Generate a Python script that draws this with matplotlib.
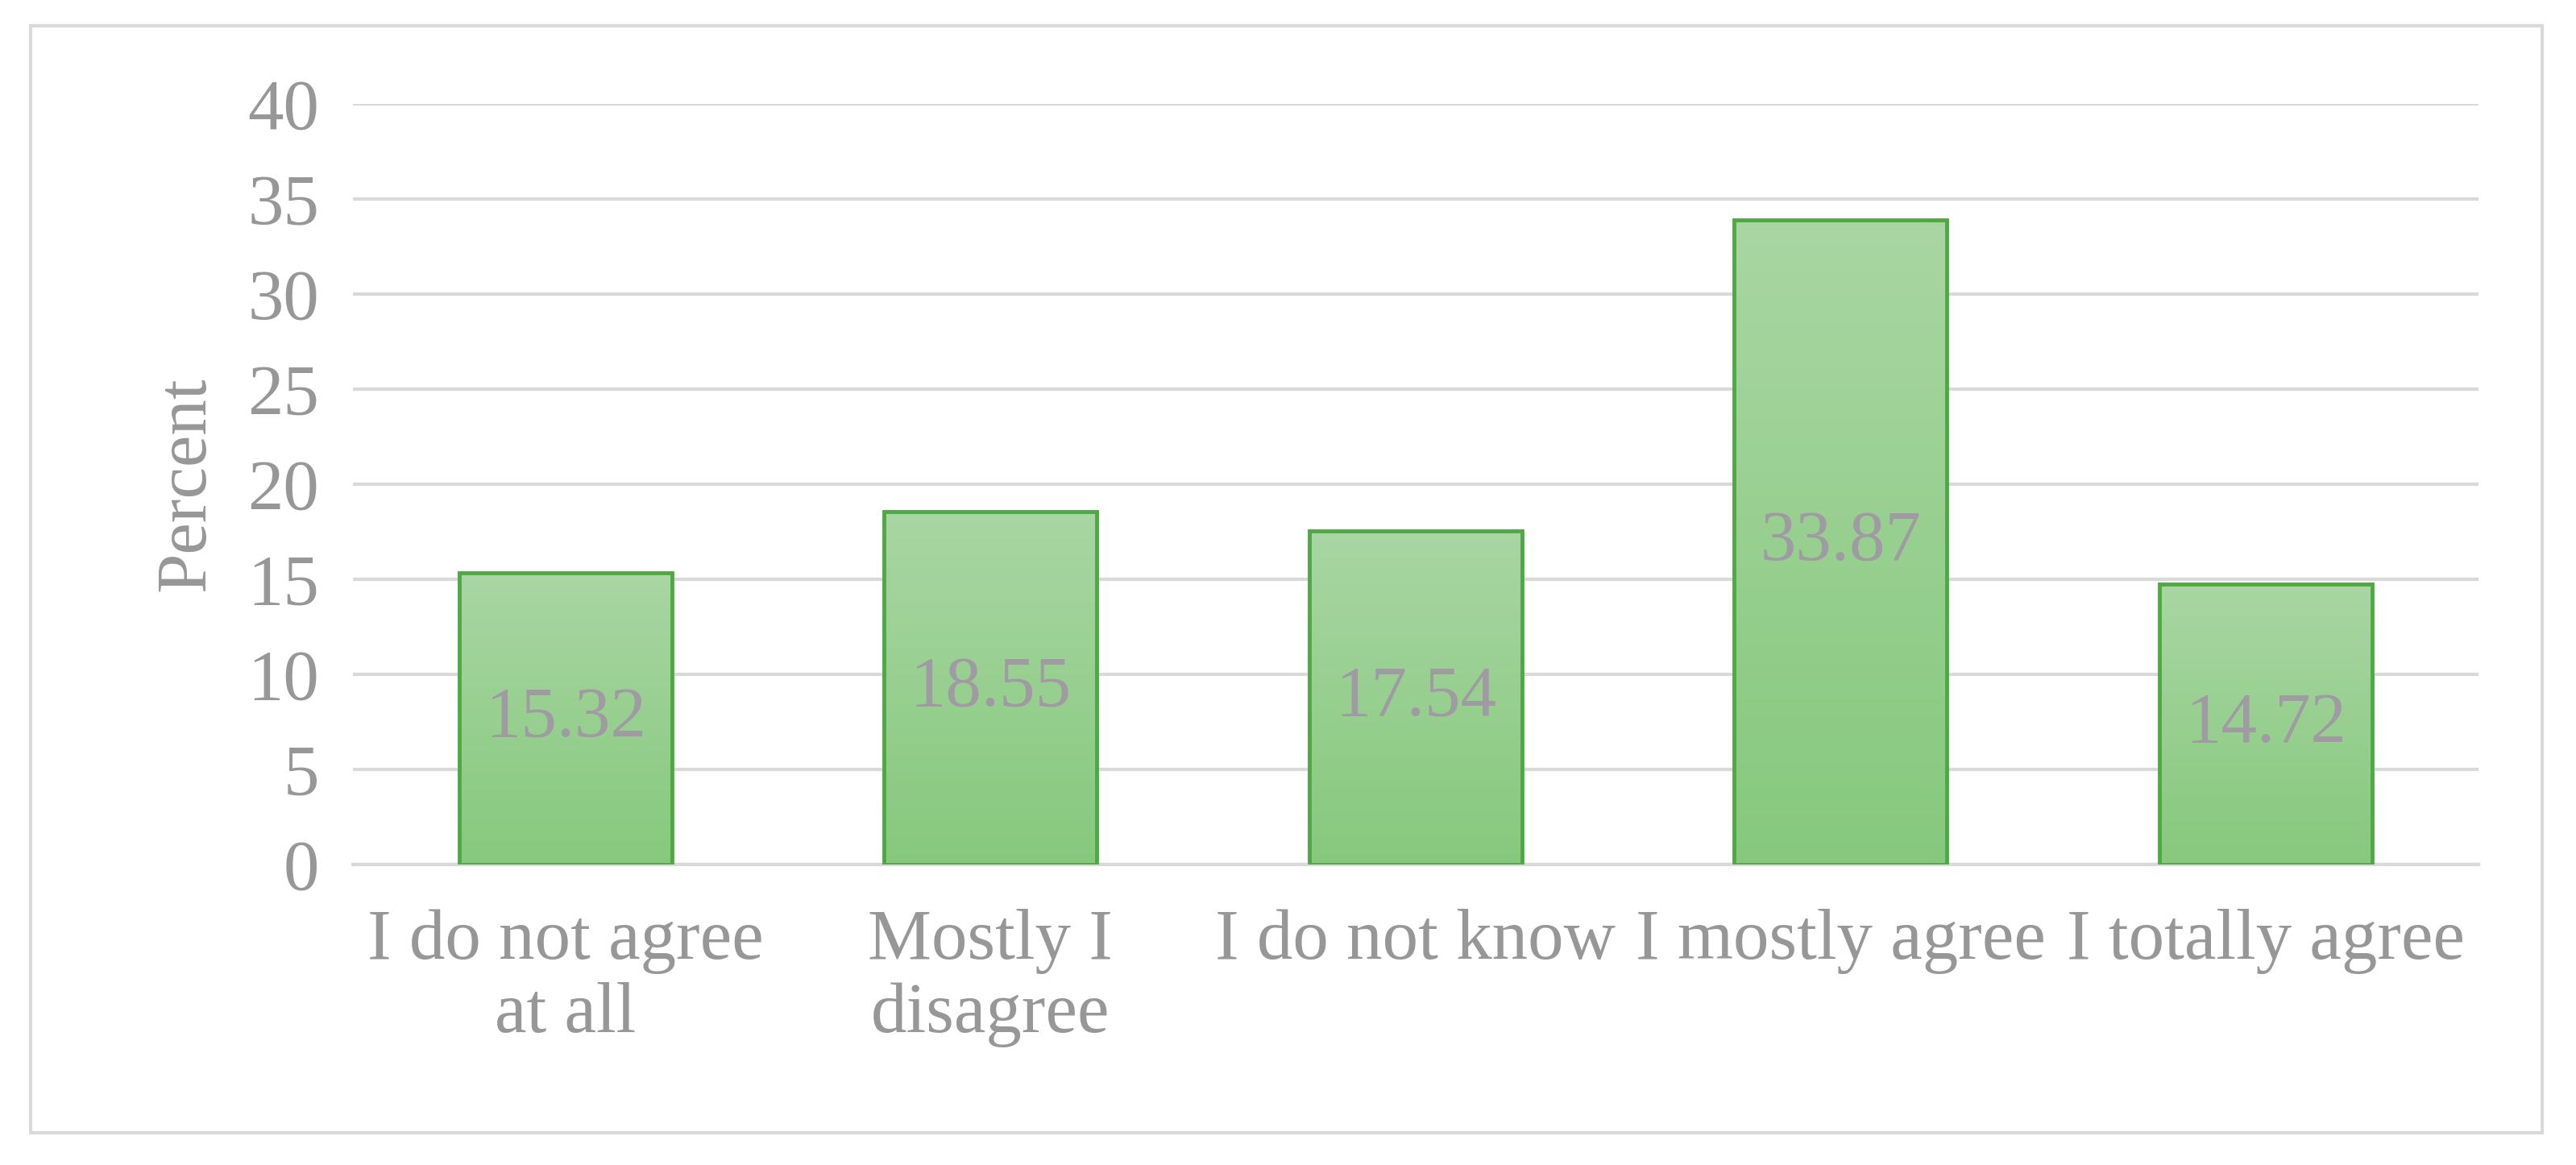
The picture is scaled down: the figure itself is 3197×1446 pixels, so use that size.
import numpy as np
import matplotlib.pyplot as plt
from matplotlib.patches import Rectangle
from matplotlib.colors import LinearSegmentedColormap

categories = ["I do not agree\nat all", "Mostly I\ndisagree", "I do not know",
              "I mostly agree", "I totally agree"]
values = [15.32, 18.55, 17.54, 33.87, 14.72]

plt.rcParams['font.family'] = ['Liberation Serif', 'DejaVu Serif']
grey = '#979797'
fs = 64

fig = plt.figure(figsize=(31.97, 14.46), dpi=100)
fig.patches.append(Rectangle((0.012, 0.028), 0.975, 0.95, transform=fig.transFigure,
                             fill=False, edgecolor='#d9d9d9', linewidth=3))
ax = fig.add_axes([0.137, 0.258, 0.825, 0.653])

x = np.arange(len(values))
w = 0.5
grad = np.linspace(0, 1, 256).reshape(-1, 1)
cmap = LinearSegmentedColormap.from_list('g', ['#86c97d', '#a9d6a3'])
for xi, v in zip(x, values):
    ax.imshow(grad, extent=(xi - w / 2, xi + w / 2, 0, v), origin='lower',
              cmap=cmap, aspect='auto', zorder=2)
    ax.add_patch(Rectangle((xi - w / 2, 0), w, v, fill=False,
                           edgecolor='#4ea843', linewidth=3.5, zorder=3))
    ax.text(xi, v / 2, f"{v:.2f}", ha='center', va='center', fontsize=fs,
            color='#a09aa2', zorder=4)

ax.set_xlim(-0.5, len(values) - 0.5)
ax.set_ylim(0, 40)
ax.set_yticks(range(0, 41, 5))
ax.yaxis.grid(True, color='#d9d9d9', linewidth=3)
ax.set_axisbelow(True)
for s in ['top', 'right', 'left']:
    ax.spines[s].set_visible(False)
ax.spines['bottom'].set_color('#d9d9d9')
ax.spines['bottom'].set_linewidth(3)
ax.set_xticks(x)
ax.set_xticklabels(categories, fontsize=fs, color=grey, linespacing=1.15)
ax.tick_params(axis='y', labelsize=fs, labelcolor=grey, length=0, pad=30)
ax.tick_params(axis='x', length=0, pad=40)
ax.set_ylabel('Percent', fontsize=fs, color=grey, labelpad=25)

fig.savefig('out.png')
